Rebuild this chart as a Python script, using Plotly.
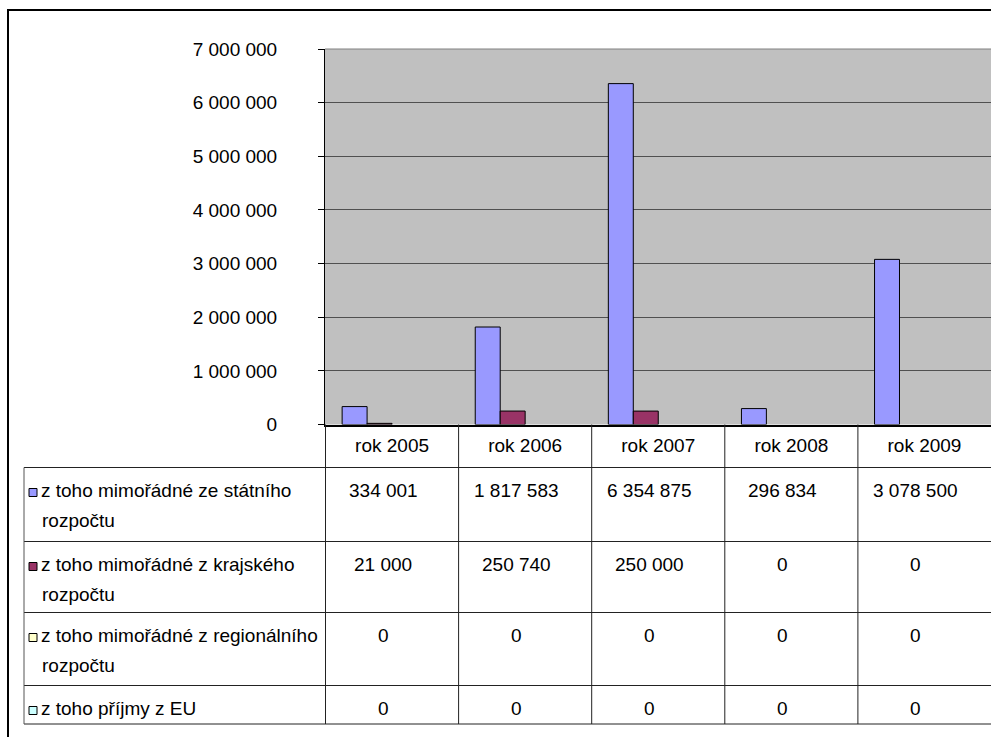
import plotly.graph_objects as go

# ---- data ----
years = ["rok 2005", "rok 2006", "rok 2007", "rok 2008", "rok 2009"]
series_names = [
    "z toho mimořádné ze státního<br>rozpočtu",
    "z toho mimořádné z krajského<br>rozpočtu",
    "z toho mimořádné z regionálního<br>rozpočtu",
    "z toho příjmy z EU",
]
statni = [334001, 1817583, 6354875, 296834, 3078500]
krajsky = [21000, 250740, 250000, 0, 0]
regionalni = [0, 0, 0, 0, 0]
eu = [0, 0, 0, 0, 0]
series_values = [statni, krajsky, regionalni, eu]
series_colors = ["#9999FF", "#993366", "#FFFFCC", "#CCFFFF"]
y_ticks = [0, 1000000, 2000000, 3000000, 4000000, 5000000, 6000000, 7000000]

# ---- layout helpers (pixel -> paper) ----
W, H = 991, 737
FONT = "Liberation Sans, Arial, sans-serif"
FS = 19


def px(x):
    return x / W


def py(y):
    return 1 - y / H


def fmt(v):
    return f"{v:,}".replace(",", " ")


PLOT_L, PLOT_T, PLOT_B = 325, 49, 424.5
TABLE_L = 24
row_edges = [467.5, 541.5, 612.5, 685.5, 724]

fig = go.Figure()
for name, vals, col in zip(series_names, series_values, series_colors):
    fig.add_trace(go.Bar(
        x=years, y=vals, name=name.replace("<br>", " "),
        marker=dict(color=col,
                    line=dict(color="black", width=[1 if v else 0 for v in vals])),
    ))

shapes = []
annotations = []

# outer chart border
shapes.append(dict(type="rect", xref="paper", yref="paper",
                   x0=px(8), x1=px(1000), y0=py(10), y1=py(760),
                   line=dict(color="black", width=2), layer="below"))
# plot-area top edge
shapes.append(dict(type="line", xref="paper", yref="paper",
                   x0=px(PLOT_L), x1=1, y0=py(PLOT_T), y1=py(PLOT_T),
                   line=dict(color="#808080", width=1)))

# data table grid
for ye in row_edges:
    shapes.append(dict(type="line", xref="paper", yref="paper",
                       x0=px(TABLE_L), x1=1, y0=py(ye), y1=py(ye),
                       line=dict(color="#222222", width=1)))
shapes.append(dict(type="line", xref="paper", yref="paper",
                   x0=px(TABLE_L), x1=px(TABLE_L), y0=py(row_edges[0]), y1=py(row_edges[-1]),
                   line=dict(color="#555555", width=1)))
for k in range(len(years)):
    shapes.append(dict(type="line", xref="x", yref="paper",
                       x0=k - 0.5, x1=k - 0.5, y0=py(PLOT_B), y1=py(row_edges[-1]),
                       line=dict(color="#222222", width=1)))

# row labels, legend keys and cell values
tops = row_edges[:-1]
for name, vals, col, top in zip(series_names, series_values, series_colors, tops):
    shapes.append(dict(type="rect", xref="paper", yref="paper",
                       x0=px(29), x1=px(37), y0=py(top + 21), y1=py(top + 29),
                       fillcolor=col, line=dict(color="black", width=1)))
    for i, line in enumerate(name.split("<br>")):
        annotations.append(dict(xref="paper", yref="paper", x=px(39 if i == 0 else 40),
                                y=py(top + 23 + 30 * i), text=line, showarrow=False,
                                xanchor="left", yanchor="middle",
                                font=dict(family=FONT, size=FS, color="black")))
    for j, v in enumerate(vals):
        annotations.append(dict(xref="x", yref="paper", x=years[j], y=py(top + 23),
                                text=fmt(v), showarrow=False, xshift=-9,
                                xanchor="center", yanchor="middle",
                                font=dict(family=FONT, size=FS, color="black")))

fig.update_layout(
    width=W, height=H,
    margin=dict(l=0, r=0, t=0, b=0, autoexpand=False),
    paper_bgcolor="white",
    plot_bgcolor="#C0C0C0",
    barmode="group", bargap=0.25, bargroupgap=0,
    showlegend=False,
    separators=", ",
    font=dict(family=FONT, size=FS, color="black"),
    shapes=shapes,
    annotations=annotations,
    xaxis=dict(domain=[px(PLOT_L), 1], showline=True, linecolor="black", linewidth=2,
               ticks="", showgrid=False, automargin=False,
               tickfont=dict(family=FONT, size=FS, color="black"),
               ticklabelstandoff=3),
    yaxis=dict(domain=[py(PLOT_B), py(PLOT_T)], range=[0, 7000000], tickvals=y_ticks,
               tickformat=",d", showline=True, linecolor="black", linewidth=1,
               ticks="outside", ticklen=6, tickcolor="black", automargin=False,
               showgrid=True, gridcolor="#505050", gridwidth=1, zeroline=False,
               tickfont=dict(family=FONT, size=FS, color="black"), ticklabelstandoff=37),
)

fig.write_html("out.html")
